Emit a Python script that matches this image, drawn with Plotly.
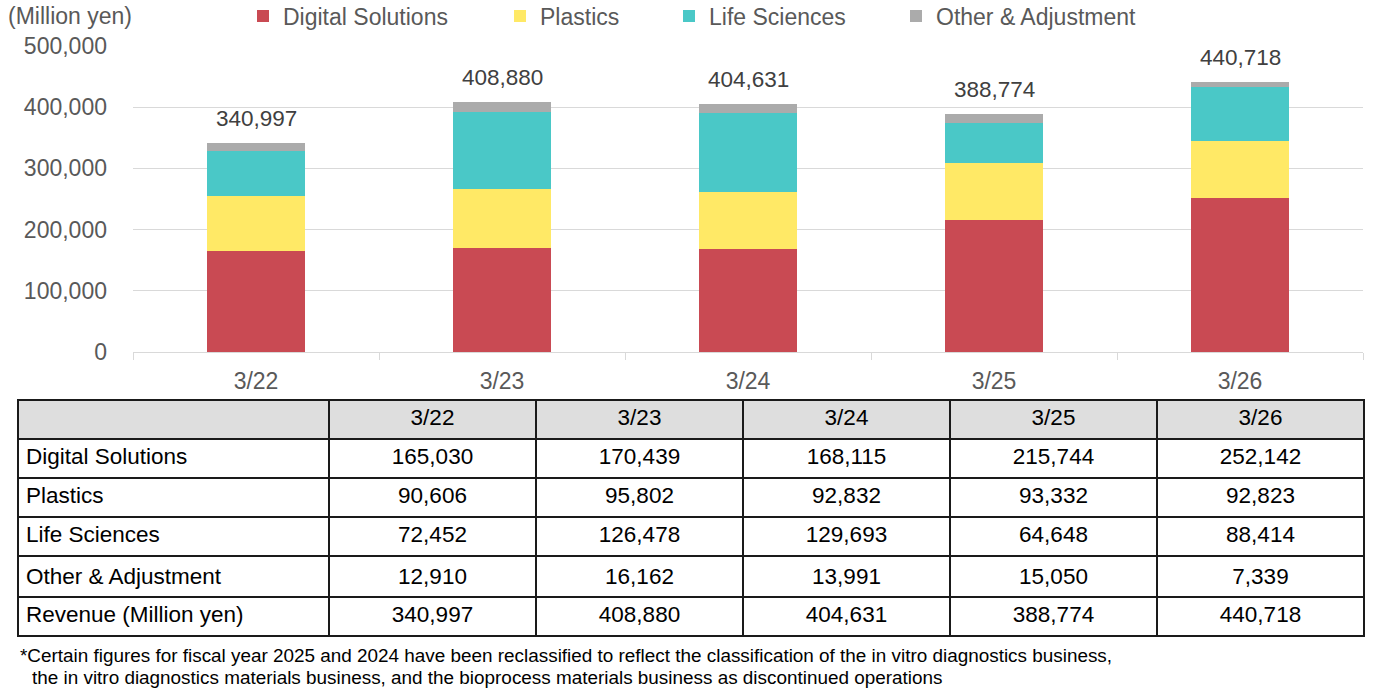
import plotly.graph_objects as go

periods = ["3/22", "3/23", "3/24", "3/25", "3/26"]
digital = [165030, 170439, 168115, 215744, 252142]
plastics = [90606, 95802, 92832, 93332, 92823]
life = [72452, 126478, 129693, 64648, 88414]
other = [12910, 16162, 13991, 15050, 7339]
revenue = [340997, 408880, 404631, 388774, 440718]

series_names = ["Digital Solutions", "Plastics", "Life Sciences", "Other & Adjustment"]
series_values = [digital, plastics, life, other]
series_colors = ["#C94A53", "#FFE966", "#4AC8C7", "#ABABAB"]
legend_ids = ["legend", "legend2", "legend3", "legend4"]
legend_px = [263, 520, 689, 916]

y_ticks = [0, 100000, 200000, 300000, 400000, 500000]

W, H = 1377, 695
FONT = "Liberation Sans, Arial, sans-serif"

fig = go.Figure()
for name, vals, col, lid in zip(series_names, series_values, series_colors, legend_ids):
    fig.add_trace(go.Bar(
        x=periods, y=vals, name=name, marker=dict(color=col, line=dict(width=0)),
        width=0.4, legend=lid, hoverinfo="skip",
    ))

# total labels
for p, tot in zip(periods, revenue):
    fig.add_annotation(x=p, y=tot, text=f"{tot:,}", showarrow=False,
                       yanchor="bottom", yshift=10, xref="x", yref="y",
                       font=dict(size=22.5, color="#404040", family=FONT))

row_labels = ["Digital Solutions", "Plastics", "Life Sciences", "Other & Adjustment", "Revenue (Million yen)"]
rows = [digital, plastics, life, other, revenue]


def cell(label, s):
    # rows whose label contains markup characters are rendered via tspans by plotly;
    # render the whole row the same way so the text lines up across the row
    return f"<span>{s}</span>" if "&" in label else s


cols = [[cell(l, l) for l in row_labels]] + [
    [cell(l, f"{r[i]:,}") for l, r in zip(row_labels, rows)] for i in range(len(periods))
]

fig.add_trace(go.Table(
    domain=dict(x=[18 / W, 1364 / W], y=[(H - 640) / H, (H - 400) / H]),
    columnwidth=[311, 207, 207, 207, 207, 207],
    header=dict(values=[""] + periods, fill_color="#DEDEDE",
                line=dict(color="#1a1a1a", width=2),
                align="center", height=39,
                font=dict(size=22.5, color="#000000", family=FONT)),
    cells=dict(values=cols, fill_color="#FFFFFF",
               line=dict(color="#1a1a1a", width=2),
               align=["left"] + ["center"] * 5, height=39,
               font=dict(size=22.5, color="#000000", family=FONT)),
))

layout_legends = {}
for lid, px in zip(legend_ids, legend_px):
    layout_legends[lid] = dict(
        x=(px - 20) / W, xanchor="left", y=1 - 16 / H, yanchor="middle",
        orientation="h", bgcolor="rgba(0,0,0,0)", borderwidth=0,
        font=dict(size=23, color="#595959", family=FONT),
    )

fig.update_layout(
    width=W, height=H,
    margin=dict(l=0, r=0, t=0, b=0, autoexpand=False),
    barmode="stack",
    plot_bgcolor="white", paper_bgcolor="white",
    font=dict(family=FONT, size=23, color="#595959"),
    xaxis=dict(domain=[133 / W, 1363 / W], type="category",
               showline=True, linecolor="#D9D9D9", linewidth=1,
               ticks="outside", tickson="boundaries", ticklen=7, tickcolor="#D9D9D9",
               showgrid=False, tickfont=dict(size=23, color="#595959"),
               ticklabelstandoff=8),
    yaxis=dict(domain=[(H - 352) / H, (H - 46) / H], range=[0, 500000],
               tickvals=y_ticks, tickformat=",", showgrid=True,
               gridcolor="#D9D9D9", gridwidth=1, zeroline=False,
               tickfont=dict(size=23, color="#595959"),
               ticklabelstandoff=25),
    showlegend=True,
    **layout_legends,
)

fig.add_annotation(x=6 / W, y=1 - 16 / H, xref="paper", yref="paper",
                   xanchor="left", yanchor="middle", showarrow=False,
                   text="(Million yen)", font=dict(size=23, color="#595959", family=FONT))

notes = [
    "*Certain figures for fiscal year 2025 and 2024 have been reclassified to reflect the classification of the in vitro diagnostics business,",
    "the in vitro diagnostics materials business, and the bioprocess materials business as discontinued operations",
]
for i, (t, yy) in enumerate(zip(notes, [655, 677])):
    fig.add_annotation(x=(18 if i == 0 else 30) / W, y=1 - yy / H, xref="paper", yref="paper",
                       xanchor="left", yanchor="middle", showarrow=False,
                       text=t, font=dict(size=18.9, color="#000000", family=FONT))

fig.write_html("out.html", config={"displayModeBar": False},
               post_script="document.body.style.margin='0';document.body.style.overflow='hidden';")
